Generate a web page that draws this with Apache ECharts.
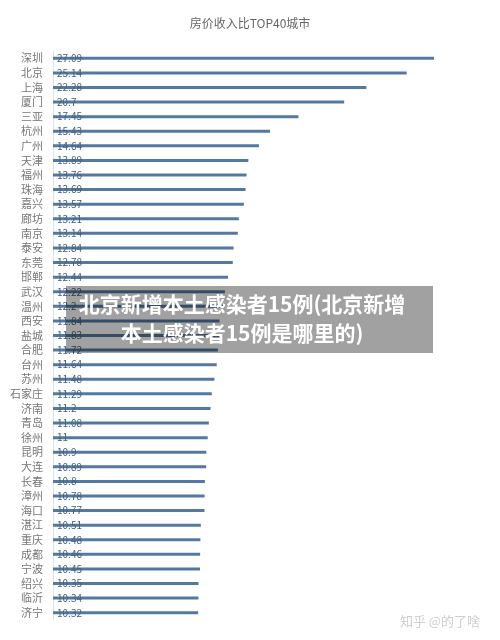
<!DOCTYPE html>
<html><head><meta charset="utf-8">
<script src="https://cdn.jsdelivr.net/npm/echarts@6/dist/echarts.min.js"></script>
<style>html,body{margin:0;padding:0;background:#fff}#c{width:500px;height:640px}</style>
</head><body><div id="c"></div>
<script>
var title = '房价收入比TOP40城市';
var cities = ['深圳','北京','上海','厦门','三亚','杭州','广州','天津','福州','珠海','嘉兴','廊坊','南京','泰安','东莞','邯郸','武汉','温州','西安','盐城','合肥','台州','苏州','石家庄','济南','青岛','徐州','昆明','大连','长春','漳州','海口','湛江','重庆','成都','宁波','绍兴','临沂','济宁'];
var values = [27.09,25.14,22.28,20.7,17.45,15.43,14.64,13.89,13.76,13.69,13.57,13.21,13.14,12.84,12.78,12.44,12.22,12.2,11.84,11.83,11.72,11.64,11.48,11.29,11.2,11.08,11,10.9,10.89,10.8,10.78,10.77,10.51,10.48,10.46,10.45,10.35,10.34,10.32];
var bannerLines = ['北京新增本土感染者15例(北京新增','本土感染者15例是哪里的)'];
var watermark = '知乎 @的了啥';

var chart = echarts.init(document.getElementById('c'));
var F = '"Noto Sans CJK SC", "Noto Sans", sans-serif';
chart.setOption({
  animation: false,
  backgroundColor: '#fff',
  title: {text: title, left: 'center', top: 12, textStyle: {fontSize: 12, fontWeight: 'normal', color: '#666', fontFamily: F}},
  grid: {left: 53, top: 51, width: 422, height: 569},
  xAxis: {type: 'value', min: 0, max: 30, show: false},
  yAxis: {type: 'category', data: cities, inverse: true,
    axisLine: {show: true, lineStyle: {color: '#dde3ea', width: 1}},
    axisTick: {show: false},
    axisLabel: {fontSize: 11, color: '#777', fontFamily: F, margin: 10}},
  series: [{type: 'bar', data: values, barWidth: 3,
    itemStyle: {color: '#5479a0'},
    label: {show: true, position: 'insideLeft', distance: 4, color: '#43617f', fontSize: 10, fontFamily: F,
      formatter: function(p){return String(p.value);}}}],
  graphic: [
    {type: 'rect', shape: {x: 66, y: 286, width: 367, height: 67}, style: {fill: 'rgba(0,0,0,0.37)'}, z: 100},
    {type: 'text', x: 242, y: 319, style: {text: bannerLines.join('\n'), fill: '#fff', fontSize: 21, fontWeight: 'bold', fontFamily: F, lineHeight: 29, align: 'center', verticalAlign: 'middle'}, z: 101},
    {type: 'text', x: 440, y: 621, style: {text: watermark, fill: '#cfcfcf', fontSize: 13, fontFamily: F, align: 'center', verticalAlign: 'middle'}, z: 101}
  ]
});
</script></body></html>
